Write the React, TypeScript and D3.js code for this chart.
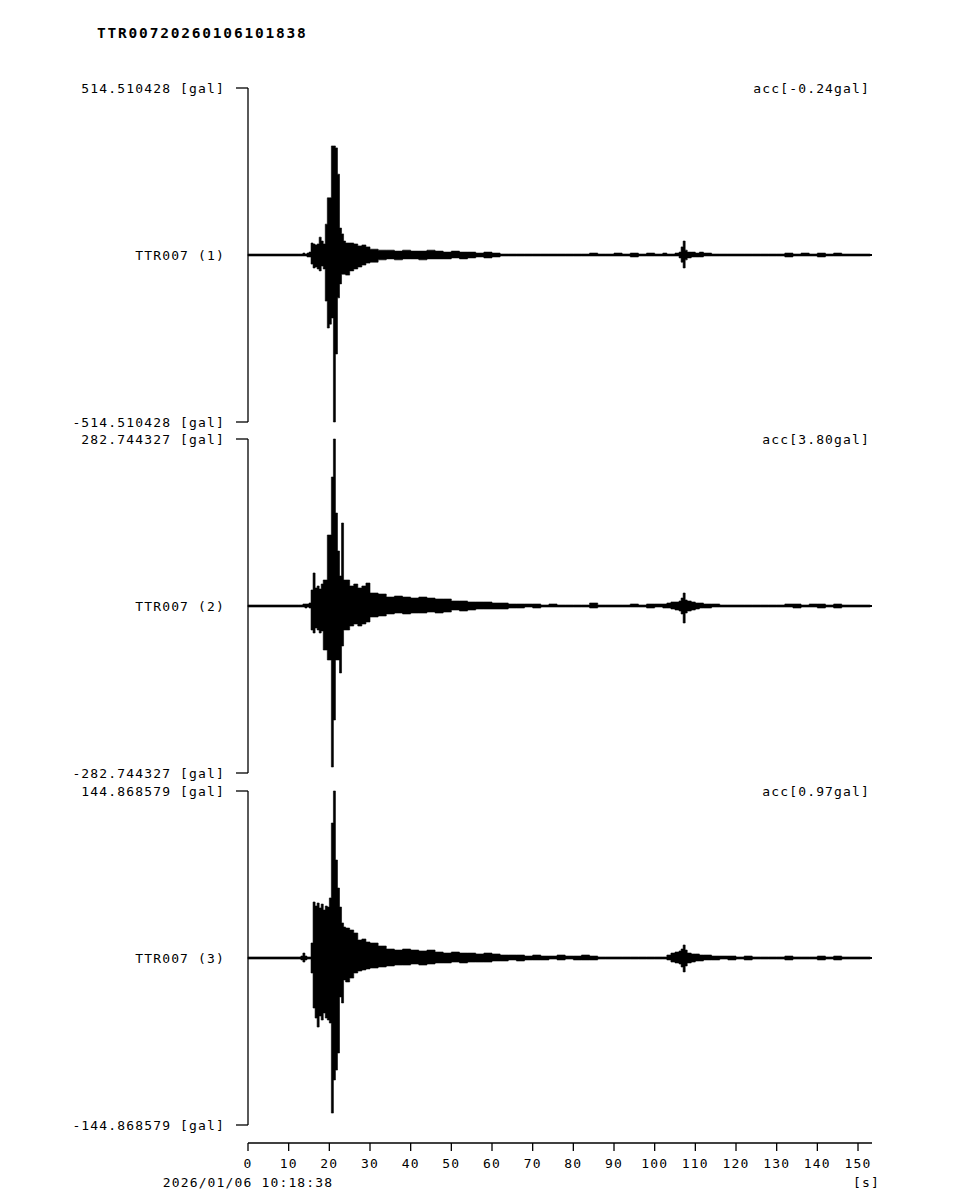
import React from "react";
import * as d3 from "d3";

const TITLE = "TTR00720260106101838";
const START_TIME = "2026/01/06 10:18:38";
const CHANNELS = ["TTR007 (1)", "TTR007 (2)", "TTR007 (3)"];
const FULL_SCALE = [514.510428, 282.744327, 144.868579];
const OFFSETS = ["-0.24", "3.80", "0.97"];
const X_TICKS = [0, 10, 20, 30, 40, 50, 60, 70, 80, 90, 100, 110, 120, 130, 140, 150];
const X_MAX = 153.44;

// time grid (s) of the envelope samples
const T = [
  0, 12.5, 13, 13.5, 14, 14.5, 15, 15.5, 16, 16.5,
  17, 17.5, 18, 18.5, 19, 19.5, 20, 20.5, 21, 21.5,
  22, 22.5, 23, 23.5, 24, 25, 26, 27, 28, 29,
  30, 32, 34, 36, 38, 40, 42, 44, 46, 48,
  50, 52, 54, 56, 58, 60, 62, 64, 66, 68,
  70, 72, 74, 76, 78, 80, 82, 84, 86, 88,
  90, 92, 94, 96, 98, 100, 102, 103, 104, 105,
  106, 106.5, 107, 107.5, 108, 109, 110, 111, 112, 114,
  116, 118, 120, 122, 124, 126, 128, 130, 132, 134,
  136, 138, 140, 142, 144, 146, 148, 150, 153,
];

// channel 1 envelope (gal)
const CH1_MAX = [
  3, 3, 3, 6, 3, 6, 9, 37, 34, 31,
  34, 55, 43, 34, 95, 176, 176, 336, 336, 330,
  249, 83, 65, 43, 37, 37, 34, 28, 31, 25,
  18, 15, 15, 12, 15, 12, 12, 15, 12, 9,
  12, 9, 9, 6, 9, 6, 3, 3, 3, 3,
  3, 3, 3, 3, 3, 3, 3, 6, 3, 3,
  6, 3, 6, 3, 6, 3, 6, 3, 3, 6,
  9, 25, 43, 15, 9, 9, 6, 9, 6, 3,
  3, 3, 3, 3, 3, 3, 3, 3, 6, 3,
  6, 3, 6, 3, 6, 3, 3, 3, 3,
];
const CH1_MIN = [
  -3, -3, -3, -3, -3, -6, -6, -28, -40, -37,
  -43, -49, -34, -43, -142, -225, -213, -194, -514.51, -305,
  -132, -89, -59, -59, -62, -49, -43, -37, -31, -25,
  -22, -15, -12, -15, -12, -12, -15, -12, -12, -12,
  -9, -12, -9, -6, -9, -6, -3, -3, -3, -3,
  -3, -3, -3, -3, -3, -3, -3, -3, -3, -3,
  -3, -3, -6, -3, -3, -3, -3, -3, -3, -3,
  -9, -22, -40, -15, -9, -6, -6, -6, -3, -3,
  -3, -3, -3, -3, -3, -3, -3, -3, -6, -3,
  -3, -3, -6, -3, -3, -3, -3, -3, -3,
];

// channel 2 envelope (gal)
const CH2_MAX = [
  1.7, 1.7, 1.7, 3.4, 3.4, 3.4, 5.1, 27.1, 55.9, 30.5,
  33.9, 28.8, 37.2, 44, 44, 120.2, 120.2, 218.4, 282.74, 157.4,
  93.1, 50.8, 140.5, 44, 44, 33.9, 37.2, 30.5, 33.9, 38.9,
  22, 20.3, 15.2, 16.9, 15.2, 13.5, 15.2, 13.5, 11.9, 11.9,
  8.5, 8.5, 6.8, 6.8, 6.8, 5.1, 5.1, 3.4, 3.4, 3.4,
  3.4, 1.7, 3.4, 1.7, 1.7, 1.7, 1.7, 5.1, 1.7, 1.7,
  1.7, 1.7, 3.4, 1.7, 3.4, 3.4, 3.4, 5.1, 6.8, 6.8,
  8.5, 13.5, 22, 10.2, 8.5, 6.8, 5.1, 5.1, 3.4, 3.4,
  1.7, 1.7, 1.7, 1.7, 1.7, 1.7, 1.7, 1.7, 3.4, 3.4,
  1.7, 3.4, 3.4, 1.7, 3.4, 1.7, 1.7, 1.7, 1.7,
];
const CH2_MIN = [
  -1.7, -1.7, -1.7, -1.7, -3.4, -1.7, -3.4, -40.6, -45.7, -37.2,
  -40.6, -45.7, -42.3, -74.5, -74.5, -91.4, -91.4, -272.6, -193, -91.4,
  -91.4, -113.4, -67.7, -40.6, -40.6, -33.9, -30.5, -33.9, -30.5, -27.1,
  -18.6, -16.9, -13.5, -11.9, -13.5, -11.9, -11.9, -10.2, -11.9, -10.2,
  -6.8, -8.5, -6.8, -5.1, -5.1, -5.1, -5.1, -3.4, -3.4, -1.7,
  -3.4, -1.7, -1.7, -1.7, -1.7, -1.7, -1.7, -3.4, -1.7, -1.7,
  -1.7, -1.7, -1.7, -1.7, -3.4, -1.7, -3.4, -3.4, -5.1, -6.8,
  -8.5, -13.5, -28.8, -11.9, -8.5, -6.8, -5.1, -3.4, -3.4, -1.7,
  -1.7, -1.7, -1.7, -1.7, -1.7, -1.7, -1.7, -1.7, -1.7, -3.4,
  -1.7, -1.7, -3.4, -1.7, -3.4, -1.7, -1.7, -1.7, -1.7,
];

// channel 3 envelope (gal)
const CH3_MAX = [
  0.9, 0.9, 1.7, 4.3, 1.7, 0.9, 0.9, 13, 48.6, 45.1,
  47.7, 43.4, 46.8, 41.6, 45.1, 44.2, 52.1, 117.1, 144.87, 85,
  60.7, 44.2, 30.4, 26.9, 26, 24.3, 21.7, 15.6, 16.5, 13.9,
  13, 10.4, 7.8, 6.9, 7.8, 6.9, 6.1, 6.9, 5.2, 4.3,
  5.2, 4.3, 4.3, 3.5, 4.3, 3.5, 2.6, 2.6, 2.6, 1.7,
  2.6, 1.7, 1.7, 2.6, 1.7, 1.7, 2.6, 1.7, 0.9, 0.9,
  0.9, 0.9, 0.9, 0.9, 0.9, 0.9, 0.9, 2.6, 4.3, 5.2,
  6.1, 7.8, 11.3, 6.9, 4.3, 3.5, 3.5, 2.6, 2.6, 1.7,
  1.7, 1.7, 0.9, 1.7, 0.9, 0.9, 0.9, 0.9, 1.7, 0.9,
  0.9, 0.9, 1.7, 0.9, 1.7, 0.9, 0.9, 0.9, 0.9,
];
const CH3_MIN = [
  -0.9, -0.9, -1.7, -3.5, -1.7, -0.9, -0.9, -13, -43.4, -52.1,
  -59.9, -50.3, -53.8, -47.7, -52.1, -53.8, -56.4, -134.5, -105.8, -97.2,
  -82.4, -33.8, -39, -19.1, -20.8, -17.4, -13, -11.3, -10.4, -9.5,
  -8.7, -7.8, -6.9, -6.1, -6.1, -5.2, -6.1, -5.2, -4.3, -4.3,
  -3.5, -4.3, -3.5, -3.5, -3.5, -2.6, -2.6, -1.7, -2.6, -1.7,
  -1.7, -1.7, -0.9, -1.7, -0.9, -1.7, -1.7, -1.7, -0.9, -0.9,
  -0.9, -0.9, -0.9, -0.9, -0.9, -0.9, -0.9, -1.7, -3.5, -4.3,
  -5.2, -7.8, -12.1, -6.9, -4.3, -3.5, -2.6, -2.6, -1.7, -1.7,
  -0.9, -1.7, -0.9, -1.7, -0.9, -0.9, -0.9, -0.9, -1.7, -0.9,
  -0.9, -0.9, -1.7, -0.9, -1.7, -0.9, -0.9, -0.9, -0.9,
];

const MAXES = [CH1_MAX, CH2_MAX, CH3_MAX];
const MINS = [CH1_MIN, CH2_MIN, CH3_MIN];

const W = 956;
const H = 1200;
const X0 = 248;
const X1 = 872;
const PANEL_TOPS = [88, 439, 791];
const PANEL_H = 334;
const AXIS_Y = 1143;
const FONT = "'DejaVu Sans Mono', monospace";

export default function App() {
  const x = d3.scaleLinear().domain([0, X_MAX]).range([X0, X1]);

  const panels = CHANNELS.map((name, i) => {
    const top = PANEL_TOPS[i];
    const bottom = top + PANEL_H;
    const fs = FULL_SCALE[i];
    const y = d3.scaleLinear().domain([-fs, fs]).range([bottom, top]);
    const pts = T.map((t, k) => ({ t, hi: MAXES[i][k], lo: MINS[i][k] }));
    const area = d3
      .area<{ t: number; hi: number; lo: number }>()
      .x((d) => x(d.t))
      .y0((d) => y(d.lo))
      .y1((d) => y(d.hi))
      .curve(d3.curveStepAfter);
    const y0 = y(0);
    const label = fs.toFixed(6);
    return (
      <g key={name}>
        <line x1={X0} x2={X0} y1={top} y2={bottom} stroke="#000" strokeWidth={1.3} />
        <line x1={X0 - 12} x2={X0} y1={top} y2={top} stroke="#000" strokeWidth={1.3} />
        <line x1={X0 - 12} x2={X0} y1={bottom} y2={bottom} stroke="#000" strokeWidth={1.3} />
        <text x={225} y={top + 4.5} textAnchor="end" style={{ letterSpacing: "1.15px" }}>
          {`${label} [gal]`}
        </text>
        <text x={225} y={bottom + 4.5} textAnchor="end" style={{ letterSpacing: "1.15px" }}>
          {`-${label} [gal]`}
        </text>
        <text x={225} y={y0 + 4.5} textAnchor="end" style={{ letterSpacing: "1.15px" }}>
          {name}
        </text>
        <text x={870} y={top + 4.5} textAnchor="end" style={{ letterSpacing: "1.15px" }}>
          {`acc[${OFFSETS[i]}gal]`}
        </text>
        <line x1={X0} x2={X1} y1={y0} y2={y0} stroke="#000" strokeWidth={2} />
        <path d={area(pts) || ""} fill="#000" stroke="#000" strokeWidth={0.6} />
      </g>
    );
  });

  return (
    <svg
      width={W}
      height={H}
      style={{ position: "absolute", left: 0, top: 0, background: "#fff" }}
      fontFamily={FONT}
      fontSize={13}
      fill="#000"
    >
      <rect x={0} y={0} width={W} height={H} fill="#fff" />
      <text x={97} y={38} fontWeight="bold" fontSize={14.5} style={{ letterSpacing: "1.8px" }}>
        {TITLE}
      </text>
      {panels}
      <line x1={X0} x2={X1} y1={AXIS_Y} y2={AXIS_Y} stroke="#000" strokeWidth={1.3} />
      {X_TICKS.map((t) => (
        <g key={t}>
          <line x1={x(t)} x2={x(t)} y1={AXIS_Y} y2={AXIS_Y + 8} stroke="#000" strokeWidth={1.3} />
          <text x={x(t)} y={AXIS_Y + 25} textAnchor="middle" style={{ letterSpacing: "1.15px" }}>
            {String(t)}
          </text>
        </g>
      ))}
      <text x={x(0)} y={1187} textAnchor="middle" style={{ letterSpacing: "1.15px" }}>
        {START_TIME}
      </text>
      <text x={880} y={1187} textAnchor="end" style={{ letterSpacing: "1.15px" }}>
        [s]
      </text>
    </svg>
  );
}
